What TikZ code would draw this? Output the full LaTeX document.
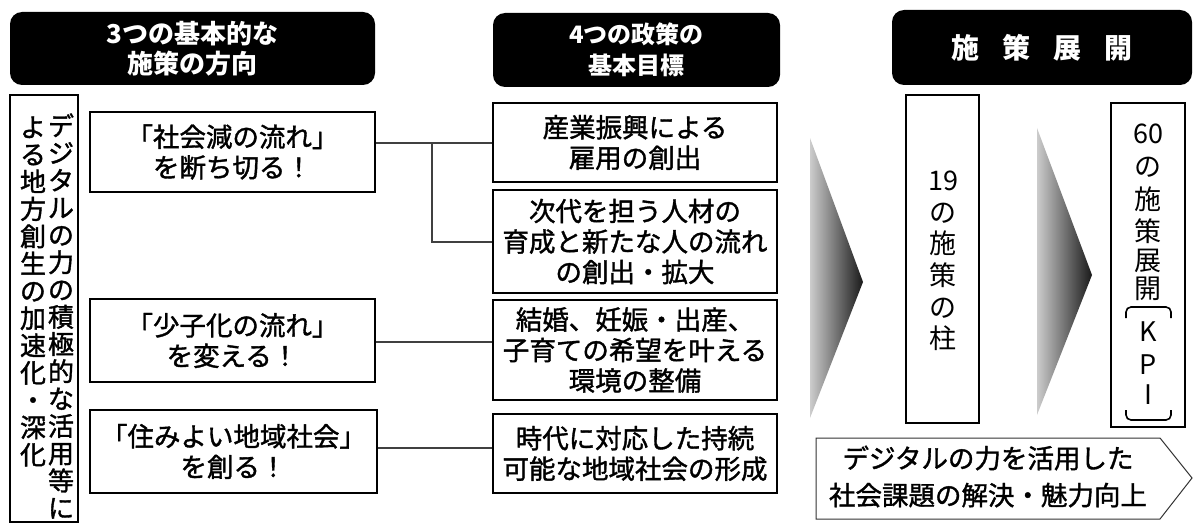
\documentclass[tikz,border=0pt]{standalone}
\usepackage{fontspec}
\newfontfamily\jp{Noto Sans CJK JP}
\newfontfamily\jpm{Noto Sans CJK JP}[FakeBold=1.4]

\tikzset{
  headbox/.style={fill=black, rounded corners=12pt, text=white, align=center, inner sep=0pt},
  framebox/.style={draw, line width=1.8pt, align=center, inner sep=0pt,
    font=\jpm\fontsize{26.5}{30.5}\selectfont},
  vtext/.style={align=center, inner sep=0pt, font=\jpm\fontsize{26}{27.3}\selectfont},
  link/.style={line width=2pt, black!75},
  chevron/.style={left color=black!20, right color=black!90}
}

\begin{document}
\begin{tikzpicture}[x=1pt, y=-1pt]
\useasboundingbox (0,0) rectangle (1193,524);

% column headings
\node[headbox, minimum width=365pt, minimum height=73pt, font=\jp\bfseries\fontsize{26}{30}\selectfont]
  (headDir) at (192.5,48.5) {3つの基本的な\\施策の方向};
\node[headbox, minimum width=287pt, minimum height=74pt, font=\jp\bfseries\fontsize{24}{31}\selectfont]
  (headGoal) at (636.5,50) {4つの政策の\\基本目標};
\node[headbox, minimum width=300pt, minimum height=75pt, font=\jp\bfseries\fontsize{28}{30}\selectfont]
  (headPlan) at (1042,47.5) {施\hspace{23pt}策\hspace{23pt}展\hspace{23pt}開};

% left vertical box, two columns read right to left
\node[framebox, minimum width=68pt, minimum height=427pt] (digital) at (44,308.5) {};
\node[vtext] (digitalR) at (61,316) {デ\\ジ\\タ\\ル\\の\\力\\の\\積\\極\\的\\な\\活\\用\\等\\に};
\node[vtext] (digitalL) at (33,291.5) {よ\\る\\地\\方\\創\\生\\の\\加\\速\\化\\・\\深\\化};

% three directions
\node[framebox, minimum width=285pt, minimum height=80pt] (dirA) at (232.5,152) {「社会減の流れ」\\を断ち切る！};
\node[framebox, minimum width=285pt, minimum height=83pt] (dirB) at (232.5,340.5) {「少子化の流れ」\\を変える！};
\node[framebox, minimum width=287pt, minimum height=83pt] (dirC) at (233.5,451.5) {「住みよい地域社会」\\を創る！};

% four basic goals
\node[framebox, minimum width=284pt, minimum height=79pt] (goalA) at (635,142.5) {産業振興による\\雇用の創出};
\node[framebox, minimum width=284pt, minimum height=103pt] (goalB) at (635,241.5) {次代を担う人材の\\育成と新たな人の流れ\\の創出・拡大};
\node[framebox, minimum width=284pt, minimum height=100pt] (goalC) at (635,350) {結婚、妊娠・出産、\\子育ての希望を叶える\\環境の整備};
\node[framebox, minimum width=284pt, minimum height=79pt] (goalD) at (635,453.5) {時代に対応した持続\\可能な地域社会の形成};

% links between directions and goals
\coordinate (split) at (432,142.5);
\draw[link] (goalA.west) -- (goalA.west -| dirA.east);
\draw[link] (split) |- (goalB.west);
\draw[link] (dirB.east |- 0,342) -- (goalC.west |- 0,342);
\draw[link] (dirC.east |- 0,448) -- (goalD.west |- 0,448);

% shaded chevrons
\shade[chevron] (810,138) -- (863,282) -- (810,418) -- cycle;
\shade[chevron] (1037,128) -- (1092,275) -- (1037,415) -- cycle;

% 19 pillars
\node[framebox, minimum width=73pt, minimum height=328pt] (pillar) at (942.5,259) {};
\node[vtext, font=\jp\fontsize{27}{31.6}\selectfont] (pillarText) at (943,261) {19\\の\\施\\策\\の\\柱};

% 60 measures with KPI
\node[framebox, minimum width=74pt, minimum height=324pt] (measure) at (1148,265) {};
\foreach \ch/\yy [count=\i] in {60/134, の/167, 施/199, 策/231, 展/261, 開/289, K/332, P/365, I/395}
  \node[vtext, font=\jp\fontsize{27}{30}\selectfont] (measure\i) at (1148,\yy) {\ch};
\draw[line width=1.6pt, rounded corners=5pt] (1126,318) -- (1126,307) -- (1171,307) -- (1171,318);
\draw[line width=1.6pt, rounded corners=5pt] (1126,410) -- (1126,420) -- (1171,420) -- (1171,410);

% result arrow
\draw[line width=1pt, black!80] (816,438) -- (1160,438) -- (1192,478) -- (1160,519) -- (816,519) -- cycle;
\node[align=center, inner sep=0pt, font=\jpm\fontsize{26.5}{37}\selectfont] (result) at (988,476.5)
  {デジタルの力を活用した\\社会課題の解決・魅力向上};

\end{tikzpicture}
\end{document}
